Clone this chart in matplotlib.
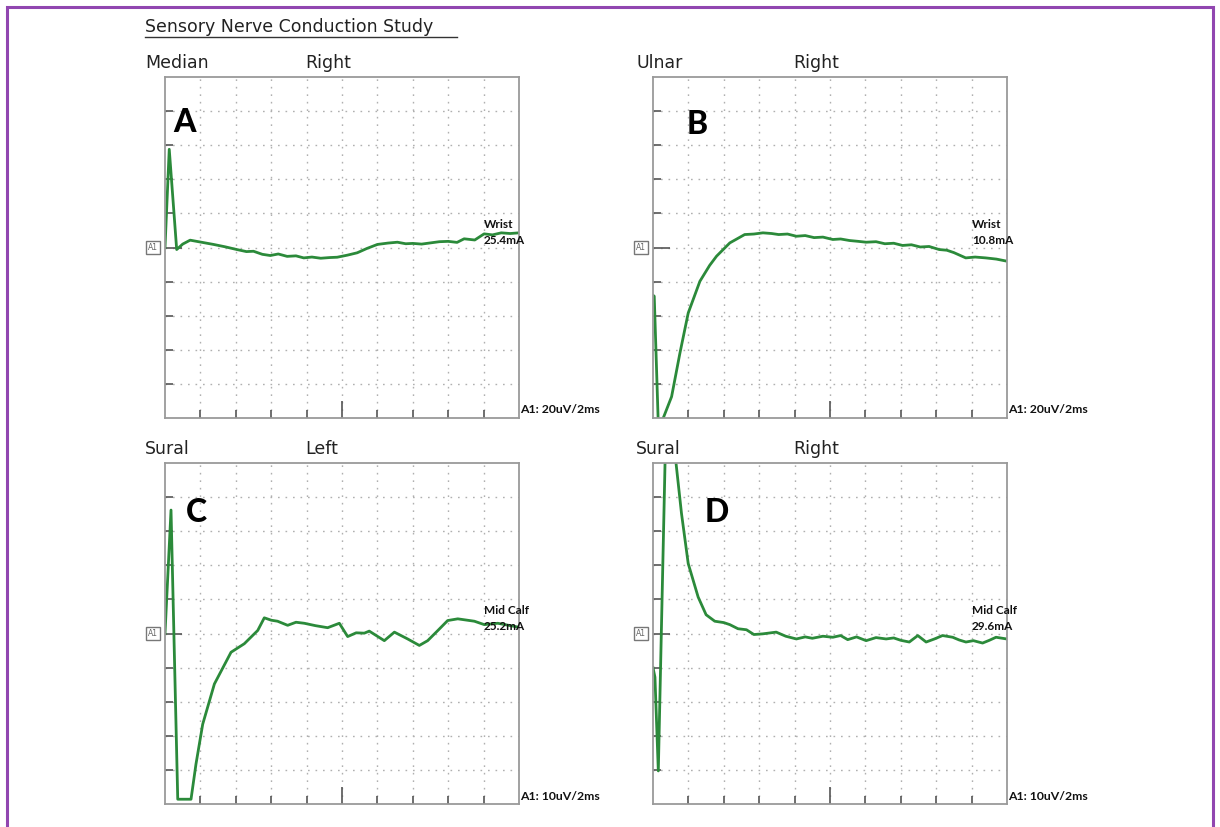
import matplotlib
matplotlib.use("Agg")
import matplotlib.pyplot as plt
from matplotlib.lines import Line2D
from matplotlib.patches import Rectangle

W, H = 1220, 827

# Panel A - Median, right (20 uV / 2 ms)
time_a = [0.0, 0.24, 0.66, 1.0, 1.42, 2.0, 2.74, 3.4, 4.06, 4.6, 5.0, 5.5, 5.95,
          6.4, 6.9, 7.4, 7.84, 8.3, 8.8, 9.3, 9.73, 10.3, 10.86, 11.4, 12.0,
          12.6, 13.13, 13.6, 14.0, 14.5, 15.0, 15.5, 16.0, 16.5, 16.9, 17.5,
          18.03, 18.5, 19.0, 19.5, 20.0]
volt_a = [0.0, 57.6, -1.2, 2.0, 4.3, 3.2, 1.8, 0.4, -1.2, -2.4, -2.2, -4.0, -4.7,
          -3.8, -5.2, -4.9, -6.1, -5.6, -6.3, -5.9, -5.7, -4.5, -3.1, -0.6, 1.8,
          2.6, 3.1, 2.2, 2.4, 2.0, 2.7, 3.4, 3.6, 3.0, 5.1, 4.4, 8.0, 7.4, 8.6,
          8.2, 8.6]

# Panel B - Ulnar, right (20 uV / 2 ms)
time_b = [0.0, 0.07, 0.3, 0.58, 1.05, 1.52, 1.99, 2.65, 3.2, 3.59, 4.34, 5.18, 5.7,
          6.21, 6.7, 7.1, 7.6, 8.1, 8.6, 9.1, 9.6, 10.16, 10.6, 11.1, 11.6,
          12.04, 12.6, 13.1, 13.6, 14.1, 14.6, 15.1, 15.6, 16.17, 16.6, 17.0,
          17.67, 18.2, 18.8, 19.4, 19.98]
volt_b = [-28.0, -28.6, -104.0, -100.0, -87.5, -62.0, -38.4, -19.8, -10.5, -5.1,
          2.7, 7.6, 7.9, 8.6, 8.2, 7.6, 7.9, 6.6, 7.0, 5.8, 6.1, 4.7, 5.0, 4.1,
          3.6, 3.1, 3.4, 2.2, 2.5, 1.2, 1.6, 0.3, 0.6, -1.2, -1.6, -3.0, -6.1,
          -5.6, -6.1, -6.8, -8.0]

# Panel C - Sural, left (10 uV / 2 ms)
time_c = [0.0, 0.34, 0.72, 1.47, 1.75, 2.13, 2.79, 3.73, 4.48, 5.24, 5.61, 6.0, 6.36,
          6.93, 7.4, 7.87, 8.5, 9.19, 9.85, 10.32, 10.8, 11.26, 11.54, 12.39,
          12.96, 13.71, 14.37, 14.84, 15.4, 15.97, 16.54, 17.48, 18.04, 18.8,
          19.93]
volt_c = [0.0, 36.2, -48.6, -48.6, -38.3, -26.6, -14.8, -5.5, -3.0, 0.9, 4.6, 3.9,
          3.6, 2.4, 3.3, 3.0, 2.3, 1.7, 3.0, -0.9, 0.2, 0.1, 0.7, -2.1, 0.4, -1.6,
          -3.5, -2.1, 0.8, 3.8, 4.3, 3.6, 2.6, 3.0, 1.9]

# Panel D - Sural, right (10 uV / 2 ms)
time_d = [0.0, 0.11, 0.3, 0.68, 0.95, 1.3, 1.61, 1.99, 2.55, 3.0, 3.49, 4.0, 4.34,
          4.8, 5.28, 5.7, 6.21, 6.96, 7.5, 8.1, 8.6, 9.0, 9.6, 10.16, 10.6,
          11.0, 11.5, 12.04, 12.6, 13.17, 13.6, 14.0, 14.48, 14.96, 15.43,
          15.9, 16.36, 16.93, 17.3, 17.68, 18.1, 18.62, 19.0, 19.38, 19.98]
volt_d = [-10.0, -12.8, -40.3, 50.0, 75.0, 50.0, 35.2, 20.5, 10.7, 5.5, 3.6, 3.2,
          2.6, 1.4, 1.1, -0.3, -0.1, 0.4, -0.8, -1.6, -1.0, -1.4, -0.8, -1.1,
          -0.6, -1.8, -1.0, -2.1, -1.2, -1.6, -1.3, -2.0, -2.5, -0.6, -2.5, -1.6,
          -0.6, -1.1, -1.9, -2.5, -2.1, -2.8, -2.0, -1.1, -1.6]

panels = [
    dict(x0=165, y0=77, t=time_a, v=volt_a, nerve="Median", side="Right",
         nx=145, letter="A", lx=185, ly=122, site="Wrist", amp="25.4mA",
         scale="A1: 20uV/2ms", div=20),
    dict(x0=653, y0=77, t=time_b, v=volt_b, nerve="Ulnar", side="Right",
         nx=636, letter="B", lx=697, ly=124, site="Wrist", amp="10.8mA",
         scale="A1: 20uV/2ms", div=20),
    dict(x0=165, y0=463, t=time_c, v=volt_c, nerve="Sural", side="Left",
         nx=145, letter="C", lx=196, ly=512, site="Mid Calf", amp="25.2mA",
         scale="A1: 10uV/2ms", div=10),
    dict(x0=653, y0=463, t=time_d, v=volt_d, nerve="Sural", side="Right",
         nx=636, letter="D", lx=717, ly=513, site="Mid Calf", amp="29.6mA",
         scale="A1: 10uV/2ms", div=10),
]

AX_W, AX_H = 354, 341
GREEN = "#2b8a3a"
SPINE = "#9a9a9a"
GRID = "#b0b0b0"


def fx(x):
    return x / W


def fy(y):
    return 1 - y / H


fig = plt.figure(figsize=(W / 100, H / 100), dpi=100)
fig.patch.set_facecolor("white")

# purple frame round the figure
fig.patches.append(Rectangle((fx(7), fy(840)), fx(1213) - fx(7), fy(7) - fy(840),
                             transform=fig.transFigure, fill=False,
                             edgecolor="#9146b0", linewidth=2.2))

# title with underline
fig.text(fx(145), fy(27), "Sensory Nerve Conduction Study", fontsize=12.5,
         family="DejaVu Sans", color="#222222", va="center", ha="left")
fig.lines.append(Line2D([fx(145), fx(457)], [fy(37), fy(37)],
                        transform=fig.transFigure, color="#333333", lw=1.0))

for p in panels:
    ax = fig.add_axes([fx(p["x0"]), fy(p["y0"] + AX_H), fx(AX_W), AX_H / H])
    d = p["div"]
    ax.set_xlim(0, 20)
    ax.set_ylim(-5 * d, 5 * d)

    ax.plot(p["t"], p["v"], color=GREEN, lw=2.0, solid_joinstyle="round")

    # grid lines every division, tick marks pointing inward
    ax.set_xticks([2, 4, 6, 8, 12, 14, 16, 18])
    ax.set_xticks([10], minor=True)
    ax.set_yticks([k * d for k in (-4, -3, -2, -1, 1, 2, 3, 4)])
    ax.set_yticks([0], minor=True)
    ax.grid(True, which="both", color=GRID, linestyle=(0, (1.2, 4.2)), lw=1.0)
    ax.tick_params(which="major", direction="in", length=6, width=1.2,
                   color="#555555", labelbottom=False, labelleft=False,
                   top=False, right=False)
    ax.tick_params(which="minor", direction="in", length=12, width=1.2,
                   color="#555555", labelbottom=False, labelleft=False,
                   top=False, right=False)
    for s in ax.spines.values():
        s.set_color(SPINE)
        s.set_linewidth(1.3)

    # labels above the panel
    ty = p["y0"] - 14
    fig.text(fx(p["nx"]), fy(ty), p["nerve"], fontsize=12.5,
             family="DejaVu Sans", color="#222222", va="center")
    fig.text(fx(p["x0"] + 140), fy(ty), p["side"], fontsize=12.5,
             family="DejaVu Sans", color="#222222", va="center")

    # big panel letter
    fig.text(fx(p["lx"]), fy(p["ly"]), p["letter"], fontsize=23,
             family="Lato", weight="black", color="black",
             ha="center", va="center")

    # stimulation site and current
    fig.text(fx(p["x0"] + 319), fy(p["y0"] + 147), p["site"], fontsize=8.5,
             family="Lato", weight="bold", color="#111111", va="center")
    fig.text(fx(p["x0"] + 319), fy(p["y0"] + 163), p["amp"], fontsize=8.5,
             family="Lato", weight="bold", color="#111111", va="center")

    # sensitivity / sweep
    fig.text(fx(p["x0"] + 355), fy(p["y0"] + 333), p["scale"], fontsize=8.8,
             family="Lato", weight="bold", color="#111111", va="center")

    # A1 channel box at the baseline
    by = p["y0"] + AX_H / 2
    fig.text(fx(p["x0"] - 12), fy(by), "A1", fontsize=5.5, family="DejaVu Sans",
             color="#666666", ha="center", va="center",
             bbox=dict(boxstyle="square,pad=0.25", fc="white", ec="#777777",
                       lw=1.0))

fig.savefig("out.png", dpi=100)
